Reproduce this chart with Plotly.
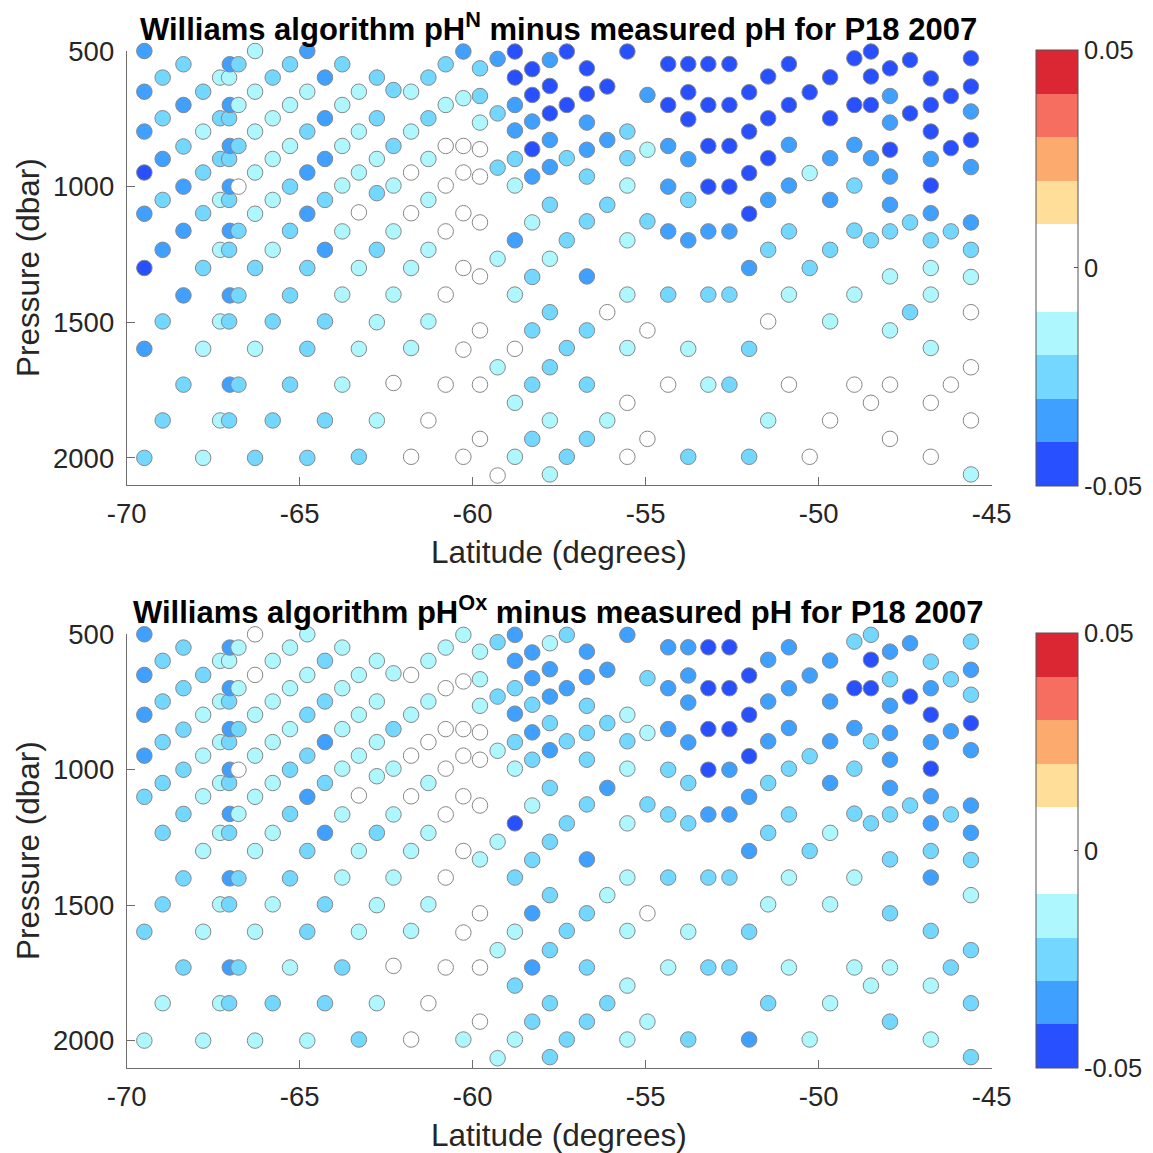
import plotly.graph_objects as go

# ---------------- data ----------------
# station latitudes (degrees)
station_lat = [-69.49, -68.96, -68.36, -67.79, -67.30, -67.04, -67.02, -66.77, -66.29, -65.78,
               -65.28, -64.78, -64.27, -63.77, -63.29, -62.77, -62.29, -61.78, -61.28, -60.78,
               -60.27, -59.79, -59.28, -58.78, -58.28, -57.77, -57.28, -56.70, -56.11, -55.53,
               -54.95, -54.35, -53.77, -53.19, -52.58, -52.01, -51.46, -50.86, -50.26, -49.67,
               -48.97, -48.49, -47.94, -47.36, -46.76, -46.18, -45.60]

# sample pressures for each station (dbar)
station_pres = [
    [500, 650, 797, 948, 1100, 1300, 1598, 2000],
    [598, 748, 898, 1049, 1233, 1497, 1862],
    [549, 699, 852, 1000, 1163, 1401, 1730],
    [650, 797, 948, 1098, 1300, 1598, 2000],
    [598, 748, 898, 1049, 1233, 1497, 1862],
    [598, 748, 898, 1049, 1233, 1497, 1862],
    [549, 699, 850, 1000, 1163, 1401, 1730],
    [549, 699, 850, 1000, 1163, 1401, 1730],
    [500, 650, 797, 948, 1100, 1300, 1598, 2000],
    [598, 748, 898, 1049, 1233, 1497, 1862],
    [549, 699, 850, 1000, 1163, 1401, 1730],
    [500, 650, 797, 948, 1100, 1300, 1598, 2000],
    [598, 748, 898, 1049, 1233, 1497, 1862],
    [549, 699, 850, 996, 1165, 1398, 1730],
    [650, 797, 948, 1095, 1300, 1598, 1996],
    [598, 748, 898, 1024, 1233, 1500, 1862],
    [644, 850, 996, 1165, 1398, 1724],
    [650, 797, 948, 1098, 1300, 1595, 1996],
    [598, 748, 898, 1049, 1233, 1497, 1862],
    [549, 699, 850, 996, 1165, 1398, 1730],
    [502, 674, 850, 948, 1098, 1300, 1601, 1996],
    [564, 666, 764, 862, 963, 1132, 1331, 1530, 1730, 1930],
    [529, 730, 930, 1266, 1666, 2065],
    [502, 598, 699, 793, 898, 996, 1198, 1398, 1598, 1797, 1996],
    [567, 662, 760, 862, 963, 1132, 1333, 1530, 1730, 1930],
    [533, 629, 730, 828, 928, 1067, 1266, 1463, 1666, 1862, 2061],
    [502, 699, 895, 1198, 1595, 1996],
    [564, 658, 764, 864, 963, 1128, 1331, 1530, 1730, 1930],
    [631, 828, 1067, 1463, 1862],
    [502, 797, 895, 996, 1198, 1398, 1595, 1797, 1996],
    [662, 864, 1128, 1530, 1930],
    [548, 699, 850, 1000, 1165, 1398, 1730],
    [548, 652, 752, 899, 1049, 1198, 1598, 1996],
    [548, 699, 850, 1000, 1165, 1398, 1730],
    [548, 699, 850, 1000, 1165, 1398, 1730],
    [652, 797, 950, 1100, 1300, 1598, 1996],
    [594, 748, 895, 1049, 1233, 1497, 1862],
    [548, 699, 846, 996, 1165, 1398, 1730],
    [652, 950, 1300, 1996],
    [597, 748, 895, 1049, 1233, 1497, 1862],
    [527, 699, 846, 996, 1162, 1398, 1730],
    [502, 594, 699, 895, 1198, 1797],
    [564, 666, 764, 864, 963, 1067, 1165, 1331, 1530, 1730, 1930],
    [533, 730, 1132, 1463],
    [601, 699, 797, 898, 996, 1098, 1198, 1300, 1398, 1595, 1797, 1996],
    [666, 858, 1165, 1730],
    [527, 631, 723, 828, 928, 1132, 1233, 1333, 1463, 1666, 1862, 2061],
]

# Williams algorithm pH^N minus measured pH
dph_N = [
    [-0.035, -0.035, -0.035, -0.045, -0.035, -0.045, -0.035, -0.025],
    [-0.025, -0.025, -0.035, -0.025, -0.035, -0.025, -0.025],
    [-0.025, -0.035, -0.025, -0.035, -0.035, -0.035, -0.025],
    [-0.025, -0.015, -0.025, -0.025, -0.025, -0.015, -0.015],
    [-0.015, -0.025, -0.025, -0.015, -0.015, -0.015, -0.015],
    [-0.015, -0.025, -0.025, -0.025, -0.025, -0.025, -0.025],
    [-0.035, -0.035, -0.035, -0.035, -0.035, -0.035, -0.035],
    [-0.025, -0.015, -0.025, -0.004, -0.025, -0.025, -0.025],
    [-0.015, -0.015, -0.015, -0.015, -0.015, -0.025, -0.015, -0.025],
    [-0.025, -0.015, -0.015, -0.015, -0.015, -0.025, -0.025],
    [-0.025, -0.015, -0.015, -0.025, -0.025, -0.025, -0.025],
    [-0.035, -0.015, -0.025, -0.035, -0.035, -0.025, -0.025, -0.025],
    [-0.035, -0.035, -0.035, -0.025, -0.035, -0.025, -0.025],
    [-0.025, -0.015, -0.015, -0.015, -0.015, -0.015, -0.015],
    [-0.015, -0.015, -0.015, -0.004, -0.015, -0.015, -0.025],
    [-0.025, -0.025, -0.015, -0.025, -0.025, -0.015, -0.015],
    [-0.025, -0.025, -0.015, -0.015, -0.015, -0.004],
    [-0.015, -0.015, -0.004, -0.004, -0.015, -0.015, -0.004],
    [-0.025, -0.025, -0.015, -0.015, -0.015, -0.015, -0.004],
    [-0.025, -0.015, -0.004, -0.004, -0.004, -0.004, -0.004],
    [-0.035, -0.015, -0.004, -0.004, -0.004, -0.004, -0.004, -0.004],
    [-0.025, -0.025, -0.015, -0.004, -0.004, -0.004, -0.004, -0.004, -0.004, -0.004],
    [-0.035, -0.025, -0.025, -0.015, -0.015, -0.004],
    [-0.045, -0.045, -0.035, -0.035, -0.025, -0.015, -0.035, -0.015, -0.004, -0.015, -0.015],
    [-0.045, -0.045, -0.035, -0.045, -0.035, -0.015, -0.025, -0.025, -0.025, -0.025],
    [-0.035, -0.045, -0.045, -0.035, -0.035, -0.025, -0.015, -0.025, -0.025, -0.015, -0.015],
    [-0.045, -0.045, -0.025, -0.025, -0.025, -0.025],
    [-0.045, -0.045, -0.035, -0.035, -0.025, -0.025, -0.035, -0.025, -0.025, -0.025],
    [-0.045, -0.035, -0.025, -0.004, -0.015],
    [-0.045, -0.025, -0.025, -0.015, -0.015, -0.015, -0.015, -0.004, -0.004],
    [-0.035, -0.015, -0.025, -0.004, -0.004],
    [-0.045, -0.045, -0.035, -0.035, -0.035, -0.025, -0.004],
    [-0.045, -0.045, -0.045, -0.035, -0.025, -0.035, -0.015, -0.025],
    [-0.045, -0.045, -0.045, -0.045, -0.035, -0.025, -0.015],
    [-0.045, -0.045, -0.045, -0.045, -0.035, -0.025, -0.025],
    [-0.045, -0.045, -0.045, -0.045, -0.035, -0.025, -0.025],
    [-0.045, -0.045, -0.045, -0.035, -0.025, -0.004, -0.015],
    [-0.045, -0.045, -0.035, -0.035, -0.025, -0.015, -0.004],
    [-0.045, -0.015, -0.025, -0.004],
    [-0.045, -0.045, -0.035, -0.035, -0.025, -0.015, -0.004],
    [-0.045, -0.045, -0.035, -0.025, -0.025, -0.015, -0.004],
    [-0.045, -0.045, -0.045, -0.035, -0.025, -0.004],
    [-0.045, -0.035, -0.035, -0.045, -0.035, -0.035, -0.025, -0.015, -0.015, -0.004, -0.004],
    [-0.045, -0.045, -0.025, -0.025],
    [-0.045, -0.045, -0.045, -0.035, -0.045, -0.035, -0.025, -0.015, -0.015, -0.015, -0.004, -0.004],
    [-0.045, -0.045, -0.025, -0.004],
    [-0.045, -0.045, -0.035, -0.045, -0.035, -0.035, -0.025, -0.015, -0.004, -0.004, -0.004, -0.015],
]

# Williams algorithm pH^Ox minus measured pH (None = no sample shown)
dph_Ox = [
    [-0.035, -0.035, -0.035, -0.035, -0.025, None, -0.025, -0.015],
    [-0.025, -0.025, -0.025, -0.025, -0.025, -0.025, -0.015],
    [-0.025, -0.025, -0.025, -0.025, -0.025, -0.025, -0.025],
    [-0.025, -0.015, -0.015, -0.015, -0.015, -0.015, -0.015],
    [-0.015, -0.015, -0.015, -0.015, -0.015, -0.015, -0.015],
    [-0.015, -0.025, -0.025, -0.025, -0.025, -0.025, -0.025],
    [-0.035, -0.035, -0.035, -0.035, -0.035, -0.035, -0.035],
    [-0.015, -0.015, -0.025, -0.004, -0.015, -0.025, -0.025],
    [-0.004, -0.004, -0.015, -0.015, -0.015, -0.015, -0.015, -0.015],
    [-0.015, -0.015, -0.015, -0.015, -0.015, -0.015, -0.025],
    [-0.015, -0.015, -0.015, -0.025, -0.025, -0.025, -0.015],
    [-0.015, -0.015, -0.025, -0.025, -0.035, -0.025, -0.025, -0.015],
    [-0.025, -0.025, -0.035, -0.025, -0.035, -0.025, -0.025],
    [-0.015, -0.015, -0.015, -0.015, -0.015, -0.015, -0.025],
    [-0.015, -0.015, -0.015, -0.004, -0.015, -0.015, -0.025],
    [-0.015, -0.015, -0.015, -0.015, -0.025, -0.015, -0.015],
    [-0.015, -0.025, -0.015, -0.015, -0.015, -0.004],
    [-0.004, -0.015, -0.004, -0.004, -0.015, -0.015, -0.004],
    [-0.015, -0.015, -0.004, -0.015, -0.015, -0.015, -0.004],
    [-0.015, -0.004, -0.004, -0.004, -0.004, -0.004, -0.004],
    [-0.015, -0.004, -0.004, -0.004, -0.004, -0.004, -0.004, -0.015],
    [-0.015, -0.015, -0.015, -0.004, -0.004, -0.004, -0.015, -0.004, -0.004, -0.004],
    [-0.025, -0.025, -0.015, -0.015, -0.015, -0.015],
    [-0.035, -0.035, -0.025, -0.035, -0.025, -0.015, -0.045, -0.025, -0.015, -0.025, -0.015],
    [-0.035, -0.035, -0.025, -0.035, -0.025, -0.015, -0.025, -0.035, -0.035, -0.025],
    [-0.015, -0.035, -0.035, -0.025, -0.035, -0.025, -0.025, -0.025, -0.025, -0.025, -0.025],
    [-0.025, -0.035, -0.025, -0.025, -0.025, -0.025],
    [-0.035, -0.035, -0.025, -0.025, -0.025, -0.025, -0.035, -0.025, -0.025, -0.025],
    [-0.035, -0.025, -0.035, -0.015, -0.025],
    [-0.035, -0.015, -0.025, -0.015, -0.015, -0.015, -0.015, -0.015, -0.015],
    [-0.025, -0.015, -0.025, -0.004, -0.015],
    [-0.035, -0.035, -0.035, -0.025, -0.025, -0.025, -0.015],
    [-0.035, -0.035, -0.035, -0.035, -0.025, -0.025, -0.015, -0.025],
    [-0.045, -0.045, -0.045, -0.045, -0.035, -0.025, -0.025],
    [-0.045, -0.045, -0.045, -0.035, -0.035, -0.025, -0.025],
    [-0.045, -0.045, -0.045, -0.035, -0.035, -0.025, -0.035],
    [-0.035, -0.035, -0.035, -0.025, -0.025, -0.015, -0.025],
    [-0.035, -0.035, -0.035, -0.025, -0.025, -0.015, -0.015],
    [-0.035, -0.025, -0.025, -0.015],
    [-0.035, -0.035, -0.035, -0.035, -0.015, -0.015, -0.015],
    [-0.025, -0.045, -0.035, -0.025, -0.025, -0.015, -0.015],
    [-0.025, -0.045, -0.045, -0.025, -0.025, -0.015],
    [-0.035, -0.025, -0.035, -0.035, -0.035, -0.035, -0.025, -0.025, -0.025, -0.015, -0.025],
    [-0.035, -0.045, -0.025, None],
    [-0.025, -0.035, -0.045, -0.035, -0.045, -0.035, -0.035, -0.025, -0.035, -0.025, -0.015, -0.015],
    [-0.025, -0.035, -0.025, -0.025],
    [-0.025, -0.035, -0.025, -0.045, -0.035, -0.035, -0.035, -0.025, -0.015, -0.025, -0.025, -0.025],
]

x_ticks = [-70, -65, -60, -55, -50, -45]
x_ticktext = ["-70", "-65", "-60", "-55", "-50", "-45"]
y_ticks = [500, 1000, 1500, 2000]
cbar_ticks = [-0.05, 0, 0.05]
cbar_ticktext = ["-0.05", "0", "0.05"]
titles = ["<b>Williams algorithm pH<sup>N</sup> minus measured pH for P18 2007</b>",
          "<b>Williams algorithm pH<sup>Ox</sup> minus measured pH for P18 2007</b>"]

# ---------------- styling ----------------
bin_colors = ["#2850FF", "#40A0FF", "#73D7FF", "#AFF7FF", "#FFFFFF",
              "#FFFFFF", "#FEDE99", "#FDAA6E", "#F66E5F", "#DB2633"]
colorscale = []
for i, c in enumerate(bin_colors):
    colorscale.append([i / 10, c])
    colorscale.append([(i + 1) / 10, c])

W = H = 1153
FONT = "Liberation Sans, Arial, Helvetica, sans-serif"
TXT = "#262626"
AX = "#6e6e6e"


def px_x(p):
    return p / W


def px_y(p):
    return 1 - p / H


# panel geometry in pixels
x0, x1 = 126.7, 991.7
panels = [(51.0, 485.0), (634.3, 1067.7)]
cb_x0, cb_w = 1035.7, 42

fig = go.Figure()

for k, (vals, (ytop, ybot)) in enumerate(zip([dph_N, dph_Ox], panels)):
    xs, ys, cs = [], [], []
    for lat, pres, v in zip(station_lat, station_pres, vals):
        for p, c in zip(pres, v):
            if c is None:
                continue
            xs.append(lat)
            ys.append(p)
            cs.append(c)
    ax = "" if k == 0 else "2"
    fig.add_trace(go.Scatter(
        x=xs, y=ys, mode="markers", xaxis="x" + ax, yaxis="y" + ax,
        cliponaxis=False, showlegend=False, hoverinfo="skip",
        marker=dict(size=15.5, color=cs, colorscale=colorscale, cmin=-0.05, cmax=0.05,
                    line=dict(color="rgb(135,135,135)", width=1),
                    showscale=True,
                    colorbar=dict(
                        x=px_x(cb_x0), xanchor="left", xpad=0, ypad=0,
                        y=px_y((ytop - 1 + ybot + 0.7) / 2), yanchor="middle",
                        lenmode="pixels", len=(ybot + 0.7) - (ytop - 1),
                        thickness=cb_w, thicknessmode="pixels",
                        outlinewidth=1, outlinecolor="#555555",
                        tickvals=cbar_ticks, ticktext=cbar_ticktext,
                        ticks="inside", ticklen=4, tickcolor="#555555",
                        tickfont=dict(family=FONT, size=25.5, color=TXT),
                    )),
    ))

    axis_common = dict(showgrid=False, zeroline=False, showline=True, linecolor=AX,
                       linewidth=1, ticks="inside", tickcolor=AX, ticklen=8,
                       automargin=False,
                       tickfont=dict(family=FONT, size=27.5, color=TXT))
    dom_x = [px_x(x0), px_x(x1)]
    dom_y = [px_y(ybot), px_y(ytop)]
    fig.layout["xaxis" + ax] = dict(axis_common, domain=dom_x, range=[-70, -45],
                                    tickvals=x_ticks, ticktext=x_ticktext,
                                    anchor="y" + ax, ticklabelstandoff=4)
    fig.layout["yaxis" + ax] = dict(axis_common, domain=dom_y, range=[2100, 500],
                                    tickvals=y_ticks, anchor="x" + ax, ticklabelstandoff=6)

    fig.add_annotation(text=titles[k], xref="paper", yref="paper",
                       x=px_x(558), y=px_y(ytop - 24), xanchor="center", yanchor="middle",
                       showarrow=False, font=dict(family=FONT, size=31, color="black"))
    fig.add_annotation(text="Latitude (degrees)", xref="paper", yref="paper",
                       x=px_x(559), y=px_y(ybot + 67), xanchor="center", yanchor="middle",
                       showarrow=False, font=dict(family=FONT, size=31.5, color=TXT))
    fig.add_annotation(text="Pressure (dbar)", xref="paper", yref="paper", textangle=-90,
                       x=px_x(28), y=px_y((ytop + ybot) / 2), xanchor="center", yanchor="middle",
                       showarrow=False, font=dict(family=FONT, size=31.5, color=TXT))

fig.update_layout(width=W, height=H, margin=dict(l=0, r=0, t=0, b=0, autoexpand=False),
                  paper_bgcolor="white", plot_bgcolor="white",
                  font=dict(family=FONT, color=TXT))

fig.write_html("out.html", config={"displayModeBar": False},
               post_script="document.body.style.margin='0';")
